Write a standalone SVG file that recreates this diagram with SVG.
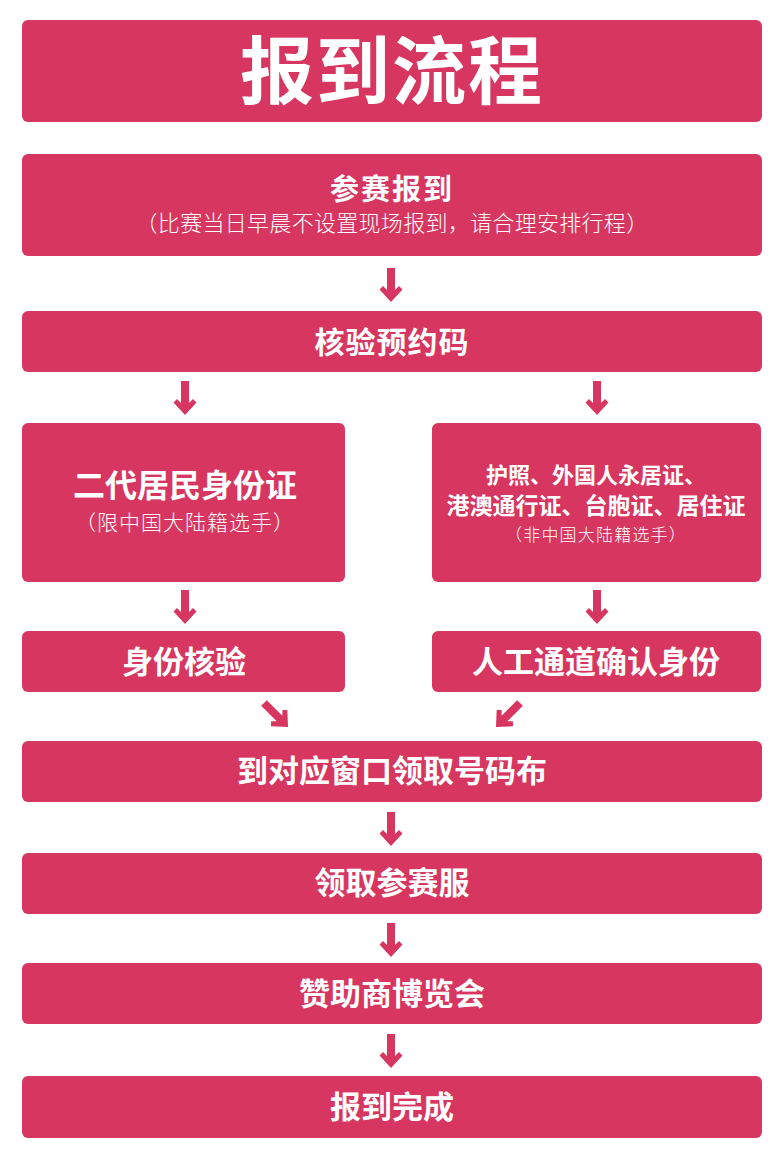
<svg xmlns="http://www.w3.org/2000/svg" width="782" height="1158" viewBox="0 0 782 1158">
<style>
.box{fill:#D6365F}
.t{fill:#fff;font-family:"Noto Sans CJK SC","Noto Sans CJK JP",sans-serif;font-weight:700;text-anchor:middle}
.s{fill:#fff;font-family:"Noto Sans CJK SC","Noto Sans CJK JP",sans-serif;font-weight:300;text-anchor:middle}
.arr{fill:#D6365F}
</style>
<defs>
<path id="arrow" d="M-4,-17 H4 V5 L8,1 L11.5,4.5 L0,17 L-11.5,4.5 L-8,1 L-4,5 Z"/>
</defs>
<rect width="782" height="1158" fill="#fff"/>
<g id="title">
<rect class="box" x="22" y="20" width="740" height="102" rx="6"/>
<text class="t" x="392" y="98" font-size="74" font-weight="900" letter-spacing="2">报到流程</text>
</g>
<g id="n1">
<rect class="box" x="22" y="154" width="740" height="102" rx="6"/>
<text class="t" x="392" y="200" font-size="29" letter-spacing="2">参赛报到</text>
<text class="s" x="392" y="231" font-size="22" letter-spacing="0.3">（比赛当日早晨不设置现场报到，请合理安排行程）</text>
</g>
<g id="n2">
<rect class="box" x="22" y="311" width="740" height="61" rx="6"/>
<text class="t" x="392" y="353" font-size="30" letter-spacing="1">核验预约码</text>
</g>
<g id="n3">
<rect class="box" x="22" y="423" width="323" height="159" rx="6"/>
<text class="t" x="185" y="497" font-size="32">二代居民身份证</text>
<text class="s" x="185" y="530" font-size="21" letter-spacing="1">（限中国大陆籍选手）</text>
</g>
<g id="n4">
<rect class="box" x="432" y="423" width="329" height="159" rx="6"/>
<text class="t" x="596" y="483" font-size="22">护照、外国人永居证、</text>
<text class="t" x="596" y="514" font-size="23">港澳通行证、台胞证、居住证</text>
<text class="s" x="596" y="541" font-size="17" letter-spacing="1.2">（非中国大陆籍选手）</text>
</g>
<g id="n5">
<rect class="box" x="22" y="631" width="323" height="61" rx="6"/>
<text class="t" x="184" y="673" font-size="31">身份核验</text>
</g>
<g id="n6">
<rect class="box" x="432" y="631" width="329" height="61" rx="6"/>
<text class="t" x="596" y="673" font-size="31">人工通道确认身份</text>
</g>
<g id="n7">
<rect class="box" x="22" y="741" width="740" height="61" rx="6"/>
<text class="t" x="392" y="782" font-size="31">到对应窗口领取号码布</text>
</g>
<g id="n8">
<rect class="box" x="22" y="853" width="740" height="61" rx="6"/>
<text class="t" x="392" y="894" font-size="31">领取参赛服</text>
</g>
<g id="n9">
<rect class="box" x="22" y="963" width="740" height="61" rx="6"/>
<text class="t" x="392" y="1005" font-size="31">赞助商博览会</text>
</g>
<g id="n10">
<rect class="box" x="22" y="1076" width="740" height="62" rx="6"/>
<text class="t" x="392" y="1118" font-size="31">报到完成</text>
</g>
<g id="connectors" class="arr">
<use href="#arrow" transform="translate(391,285)"/>
<use href="#arrow" transform="translate(185,398)"/>
<use href="#arrow" transform="translate(597,398)"/>
<use href="#arrow" transform="translate(185,607)"/>
<use href="#arrow" transform="translate(597,607)"/>
<use href="#arrow" transform="translate(276,715) rotate(-45)"/>
<use href="#arrow" transform="translate(508,715) rotate(45)"/>
<use href="#arrow" transform="translate(391,829)"/>
<use href="#arrow" transform="translate(391,940)"/>
<use href="#arrow" transform="translate(391,1051)"/>
</g>
</svg>
